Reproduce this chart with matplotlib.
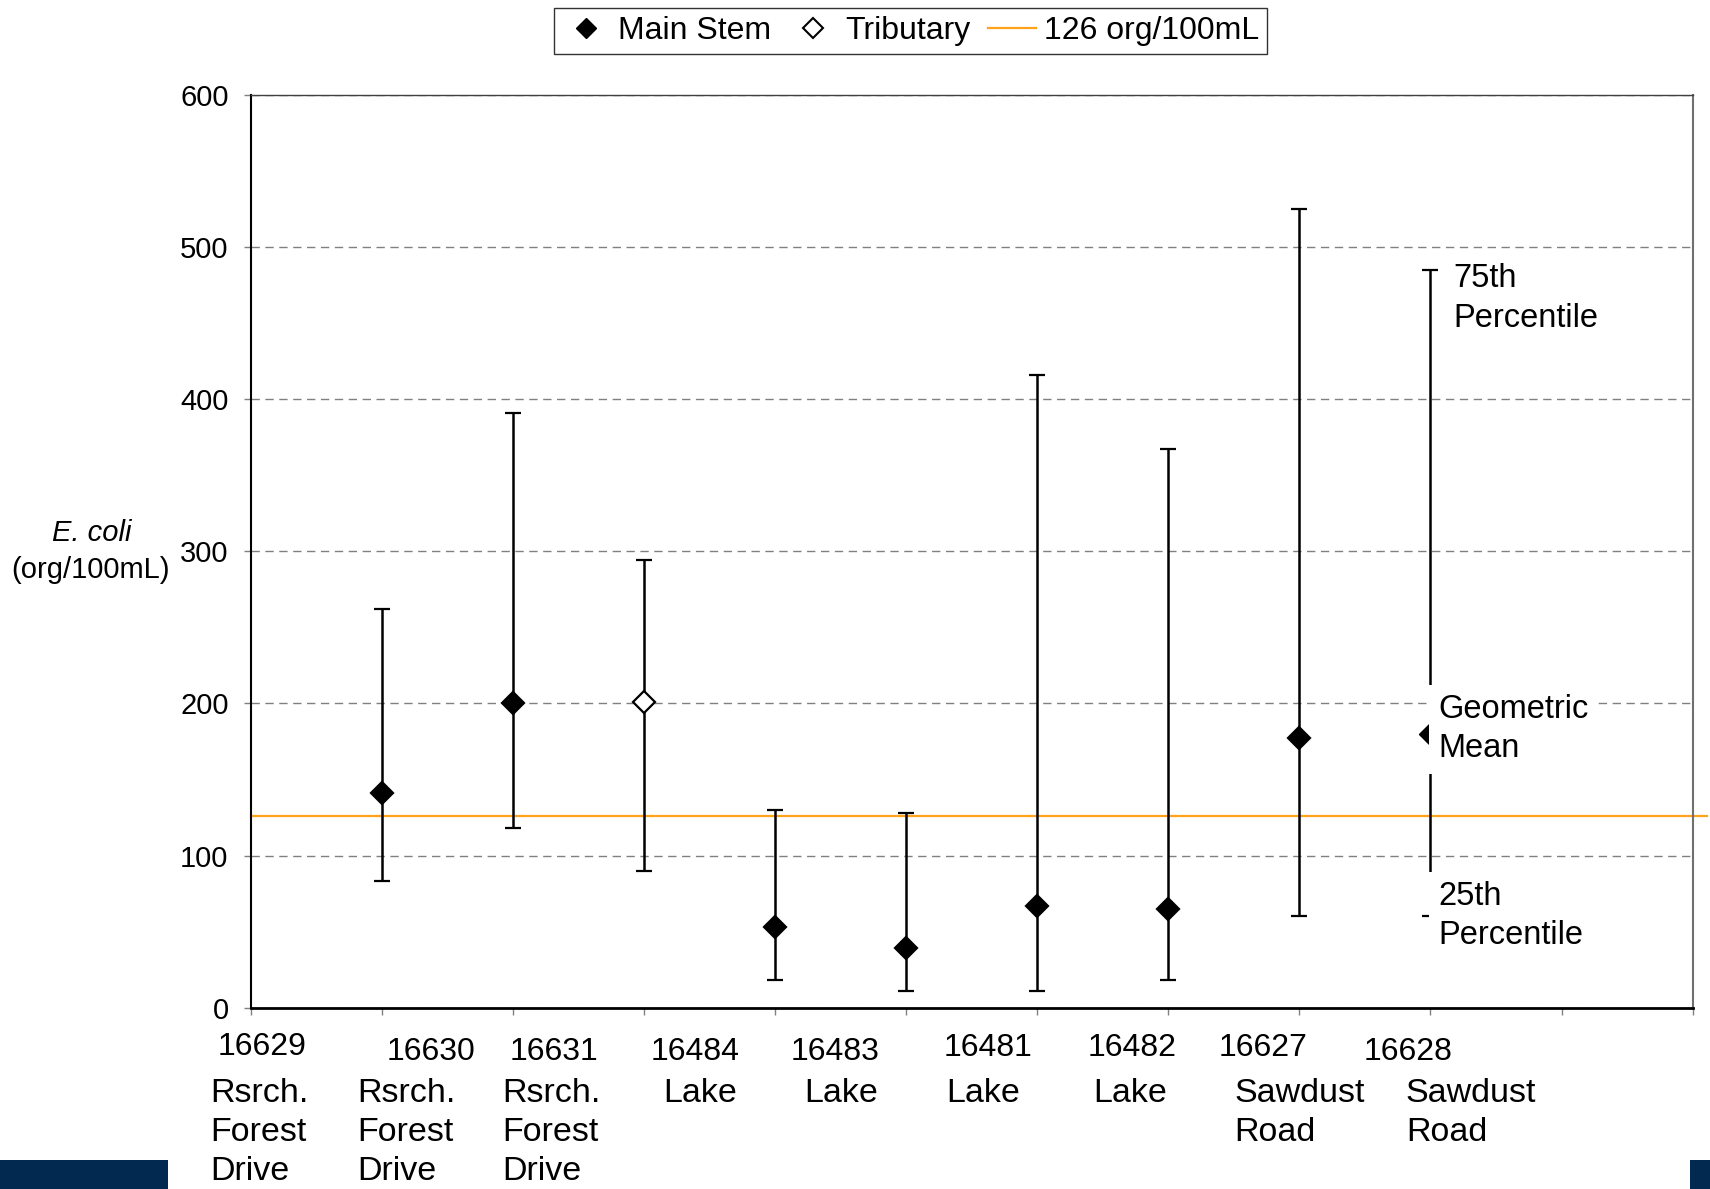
import matplotlib
matplotlib.use("Agg")
import matplotlib.pyplot as plt
import matplotlib.transforms as mtransforms
from matplotlib.lines import Line2D
from matplotlib.patches import Rectangle

plt.rcParams["font.family"] = ["Liberation Sans", "DejaVu Sans"]

# ---- station labels along the x axis ----
station_ids = ["16629", "16630", "16631", "16484", "16483",
               "16481", "16482", "16627", "16628"]
station_names = ["Rsrch.\nForest\nDrive", "Rsrch.\nForest\nDrive", "Rsrch.\nForest\nDrive",
                 "Lake", "Lake", "Lake", "Lake",
                 "Sawdust\nRoad", "Sawdust\nRoad"]

# ---- E. coli summary per sampled position (org/100mL) ----
sample_pos = [1, 2, 3, 4, 5, 6, 7, 8]
geo_mean = [141, 200.5, 201, 53, 39, 67, 65, 177]
pct25 = [83, 118, 90, 18, 11, 11, 18, 60]
pct75 = [262, 391, 294, 130, 128, 416, 367, 525]
tributary = [False, False, True, False, False, False, False, False]

standard = 126  # org/100mL criterion

# explanatory key bar
key_pos = 9
key_mean, key_p25, key_p75 = 180, 60, 485

# ---- layout of the hand-placed station labels (x in data units) ----
id_x = [-0.25, 1.04, 1.972, 3.054, 4.119, 5.284, 6.382, 7.381, 8.488]
id_y = [-0.0515, -0.0575, -0.0575, -0.0575, -0.0575, -0.0527, -0.0527, -0.0527, -0.0575]
name_x = [-0.308, 0.815, 1.922, 3.145, 4.219, 5.309, 6.424, 7.505, 8.812]
name_top = -0.0765

ORANGE = "#FFA31A"
NAVY = "#02294F"
GRID = "#808080"

fig = plt.figure(figsize=(17.1, 11.89), dpi=100)
ax = fig.add_axes([0.14667, 0.15248, 0.84316, 0.76770])

ax.set_xlim(0, 11)
ax.set_ylim(0, 600)
ax.set_yticks(range(0, 601, 100))
ax.set_xticks(range(0, 12))
ax.tick_params(axis="x", direction="out", length=5, width=1, color=GRID, labelbottom=False)
ax.tick_params(axis="y", direction="out", length=5, width=1, color=GRID, labelsize=21, pad=11)

ax.yaxis.grid(True, color=GRID, linestyle=(0, (6, 4)), linewidth=1)
ax.set_axisbelow(True)

ax.spines["left"].set_linewidth(1.5)
ax.spines["bottom"].set_linewidth(2)
ax.spines["top"].set_color("#404040")
ax.spines["top"].set_linewidth(1)
ax.spines["right"].set_color("#707070")
ax.spines["right"].set_linewidth(1.5)

# criterion line, running slightly past the plot area
ax.axhline(standard, xmin=0, xmax=1.01, color=ORANGE, lw=1.6, clip_on=False, zorder=2)

# geometric means with 25th-75th percentile bars
for x, m, lo, hi, trib in zip(sample_pos, geo_mean, pct25, pct75, tributary):
    ax.errorbar(x, m, yerr=[[m - lo], [hi - m]], fmt="D", ms=11.5,
                mfc="white" if trib else "black", mec="black", mew=1.6,
                ecolor="black", elinewidth=1.8, capsize=5.8, capthick=1.6, zorder=3)

# key bar explaining the symbols
ax.errorbar(key_pos, key_mean, yerr=[[key_mean - key_p25], [key_p75 - key_mean]], fmt="D",
            ms=11.5, mfc="black", mec="black", ecolor="black", elinewidth=1.8,
            capsize=5.8, capthick=1.6, zorder=3)
box = dict(facecolor="white", edgecolor="none", pad=6.5)
key_style = dict(ha="left", va="top", fontsize=23.5, linespacing=1.345, zorder=4)
ax.text(key_pos + 0.178, 489.3, "75th\nPercentile", **key_style)
geo_txt = ax.text(key_pos + 0.045, 206.1, "Geometric\nMean", bbox=box, **key_style)
p25_txt = ax.text(key_pos + 0.045, 83.5, "25th\nPercentile", bbox=box, **key_style)

# station labels under the axis
blend = mtransforms.blended_transform_factory(ax.transData, ax.transAxes)
for sid, sx, sy in zip(station_ids, id_x, id_y):
    ax.text(sx, sy, sid, transform=blend, ha="left", va="baseline", fontsize=23, clip_on=False)
for nm, nx in zip(station_names, name_x):
    ax.text(nx, name_top, nm, transform=blend, ha="left", va="top", fontsize=24.5,
            linespacing=1.335, clip_on=False)

# y axis title
fig.text(91.6 / 1710, 1 - 533.3 / 1189, "E. coli", style="italic", ha="center", va="center", fontsize=21)
fig.text(90.5 / 1710, 1 - 570.4 / 1189, "(org/100mL)", ha="center", va="center", fontsize=21)

# legend
handles = [
    Line2D([], [], ls="none", marker="D", ms=10, mfc="black", mec="black"),
    Line2D([], [], ls="none", marker="D", ms=10, mfc="white", mec="black", mew=1.5),
    Line2D([], [], color=ORANGE, lw=1.6),
]
leg = fig.legend(handles, ["Main Stem", "Tributary", "126 org/100mL"], loc="upper center",
                 bbox_to_anchor=(0.5325, 0.9933), ncol=3, frameon=True, fancybox=False,
                 edgecolor="black", fontsize=23, handlelength=1.5, handletextpad=0.25,
                 columnspacing=0.55, borderpad=0.25, borderaxespad=0)
leg.get_frame().set_linewidth(1.0)

# footer bars
fig.add_artist(Rectangle((0, 0), 168 / 1710, 29 / 1189, transform=fig.transFigure,
                         facecolor=NAVY, edgecolor="none"))
fig.add_artist(Rectangle((1690 / 1710, 0), 20 / 1710, 29 / 1189, transform=fig.transFigure,
                         facecolor=NAVY, edgecolor="none"))

# let the white label boxes start just left of the key bar so they hide the
# bar and the right half of its marker
fig.canvas.draw()
renderer = fig.canvas.get_renderer()
target = ax.transData.transform((key_pos, 0))[0] - 1.6
for t in (geo_txt, p25_txt):
    left = t.get_bbox_patch().get_window_extent(renderer).x0
    x, y = t.get_position()
    px, py = ax.transData.transform((x, y))
    t.set_x(ax.transData.inverted().transform((px + (target - left), py))[0])

fig.savefig("out.png", dpi=100)
